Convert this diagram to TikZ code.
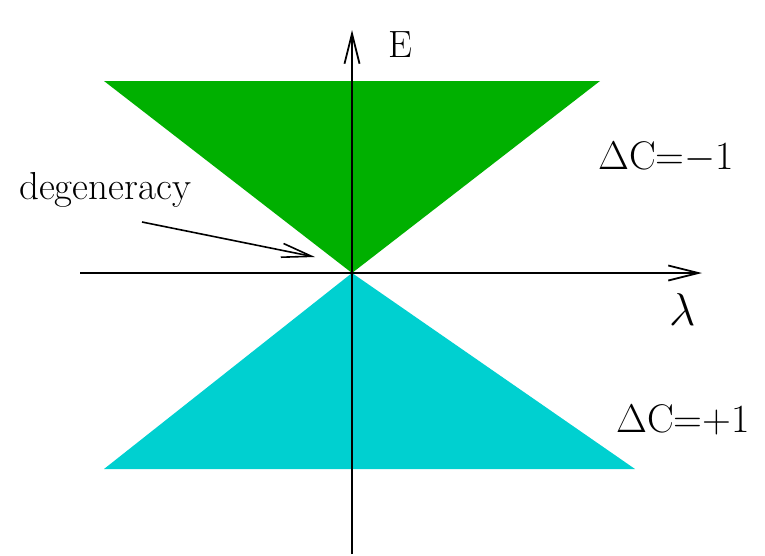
\RequirePackage{fix-cm}
\documentclass[tikz,border=0pt]{standalone}
\usetikzlibrary{arrows.meta, positioning}

\begin{document}
\begin{tikzpicture}[
    x=1pt, y=-1pt,
    axis/.style={
        line width=2pt,
        black,
        -{Straight Barb[length=30pt, width=15pt, line width=1.8pt]}
    },
    pointer/.style={
        line width=1.6pt,
        black,
        -{Straight Barb[length=30pt, width=14pt, line width=1.6pt]}
    },
    band/.style={
        draw=none,
        fill=#1
    },
    tag/.style={
        anchor=base west,
        inner sep=0pt,
        font=\fontsize{#1}{#1}\selectfont
    }
]
\definecolor{bandgreen}{RGB}{0,176,0}
\definecolor{bandcyan}{RGB}{0,208,208}

\useasboundingbox (0,0) rectangle (765,555);

% Coordinates
\coordinate (origin) at (352,273);
\coordinate (ebottom) at (352,554);
\coordinate (etop) at (352,30);
\coordinate (lleft) at (80,273);
\coordinate (lright) at (702,273);

% Cones
\fill[band=bandgreen] (104,81) -- (600,81) -- (origin) -- cycle;
\fill[band=bandcyan] (origin) -- (635,469) -- (104,469) -- cycle;

% Axes
\draw[axis] (ebottom) -- (etop);
\draw[axis] (lleft) -- (lright);

% Axis labels
\node[tag=38] (elabel) at (388,57) {E};
\node[tag=46] (lambdalabel) at (669,325) {$\lambda$};

% Charge labels
\node[tag=40] (dcminus) at (598,169) {$\Delta$C=$-$1};
\node[tag=40] (dcplus) at (616,432) {$\Delta$C=+1};

% Degeneracy pointer
\node[tag=39] (degen) at (19,199) {degeneracy};
\coordinate (degtail) at (142,222);
\coordinate (degtip) at (315,257);
\draw[pointer] (degtail) -- (degtip);

\end{tikzpicture}
\end{document}
